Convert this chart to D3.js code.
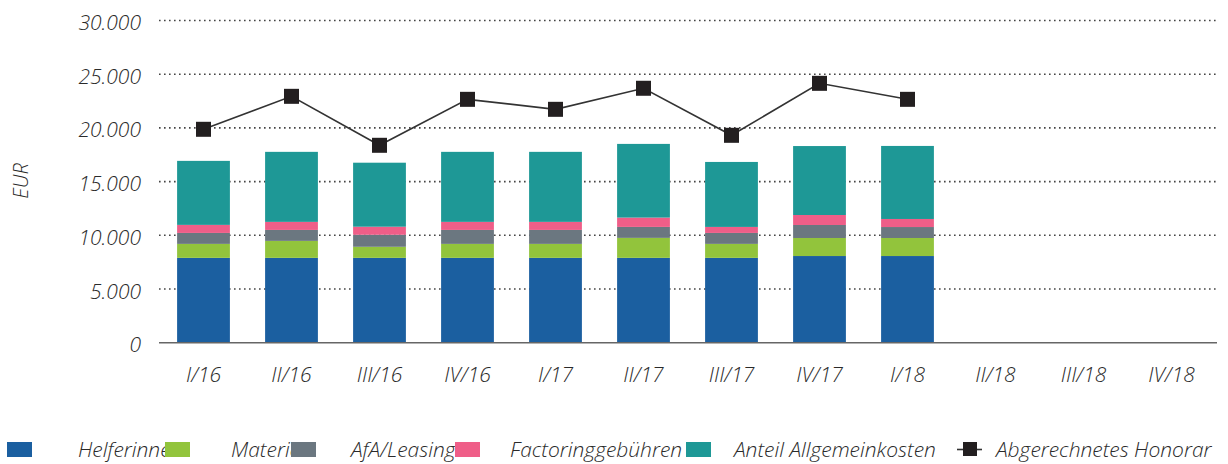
<!DOCTYPE html>
<html>
<head>
<meta charset="utf-8">
<script src="https://cdn.jsdelivr.net/npm/d3@7"></script>
<style>
    body { margin: 0; background: #fff; }
    svg { display: block; font-family: "Open Sans", Lato, sans-serif; font-style: italic; font-weight: 300; }
</style>
</head>
<body>
<svg id="chart"></svg>
<script>
const quarters = ["I/16", "II/16", "III/16", "IV/16", "I/17", "II/17", "III/17", "IV/17", "I/18", "II/18", "III/18", "IV/18"];

const seriesNames = ["Helferinnen", "Material", "AfA/Leasing", "Factoringgebühren", "Anteil Allgemeinkosten"];
const lineName = "Abgerechnetes Honorar";

// stacked cost parts per quarter (EUR), only the first 9 quarters have data
const helferinnen = [7900, 7900, 7900, 7900, 7900, 7900, 7900, 8070, 8070];
const material = [1300, 1580, 1030, 1300, 1300, 1860, 1300, 1680, 1680];
const afaLeasing = [1020, 1020, 1120, 1300, 1300, 1020, 1020, 1210, 1020];
const factoring = [750, 750, 750, 750, 750, 870, 560, 930, 750];
const allgemein = [5960, 6520, 5960, 6520, 6520, 6860, 6050, 6420, 6800];

const honorar = [19870, 22940, 18380, 22660, 21730, 23690, 19310, 24150, 22660];

const yTicks = [0, 5000, 10000, 15000, 20000, 25000, 30000];

const colors = ["#1b5fa0", "#92c43c", "#6b7780", "#ef5e88", "#1e9896"];
const lineColor = "#231f20";
const textColor = "#2a2a2a";

const width = 1228, height = 464;

const svg = d3.select("#chart").attr("width", width).attr("height", height);

const x = d3.scaleBand()
    .domain(quarters)
    .range([159.5, 1215.5])
    .paddingInner(0.4)
    .paddingOuter(0.2);

const y = d3.scaleLinear()
    .domain([0, 30000])
    .range([342.7, 20.5]);

const fmt = v => v === 0 ? "0" : d3.format(",")(v).replace(/,/g, ".");

// build stack table from the arrays
const parts = [helferinnen, material, afaLeasing, factoring, allgemein];
const table = helferinnen.map((_, i) => {
    const row = { q: quarters[i] };
    seriesNames.forEach((n, k) => row[n] = parts[k][i]);
    return row;
});
const stacked = d3.stack().keys(seriesNames)(table);

// dotted grid
const grid = svg.append("g");
grid.selectAll("line")
    .data(yTicks.filter(t => t > 0))
    .join("line")
    .attr("x1", 159)
    .attr("x2", 1217)
    .attr("y1", d => y(d))
    .attr("y2", d => y(d))
    .attr("stroke", "#444")
    .attr("stroke-width", 1.6)
    .attr("stroke-dasharray", "1.6,3.4");

// y tick labels
svg.append("g").selectAll("text")
    .data(yTicks)
    .join("text")
    .attr("x", 141)
    .attr("y", d => y(d) + 9.5)
    .attr("text-anchor", "end")
    .attr("fill", textColor)
    .style("font-size", "21px")
    .text(fmt);

svg.append("text")
    .attr("transform", "translate(28,181) rotate(-90)")
    .attr("text-anchor", "middle")
    .attr("fill", textColor)
    .style("font-size", "20px")
    .text("EUR");

// bars
svg.append("g").selectAll("g")
    .data(stacked)
    .join("g")
    .attr("fill", (d, i) => colors[i])
    .selectAll("rect")
    .data(d => d)
    .join("rect")
    .attr("x", d => x(d.data.q))
    .attr("y", d => y(d[1]))
    .attr("width", x.bandwidth())
    .attr("height", d => y(d[0]) - y(d[1]));

// baseline
svg.append("line")
    .attr("x1", 159)
    .attr("x2", 1217)
    .attr("y1", y(0))
    .attr("y2", y(0))
    .attr("stroke", "#666")
    .attr("stroke-width", 1.6);

// x labels
svg.append("g").selectAll("text")
    .data(quarters)
    .join("text")
    .attr("x", d => x(d) + x.bandwidth() / 2)
    .attr("y", 382)
    .attr("text-anchor", "middle")
    .attr("fill", textColor)
    .style("font-size", "21px")
    .text(d => d);

// honorar line + square markers
const cx = i => x(quarters[i]) + x.bandwidth() / 2;
svg.append("path")
    .datum(honorar)
    .attr("fill", "none")
    .attr("stroke", "#333")
    .attr("stroke-width", 1.6)
    .attr("d", d3.line().x((d, i) => cx(i)).y(d => y(d)));

svg.append("g").selectAll("rect")
    .data(honorar)
    .join("rect")
    .attr("x", (d, i) => cx(i) - 7.5)
    .attr("y", d => y(d) - 7.5)
    .attr("width", 15)
    .attr("height", 15)
    .attr("fill", lineColor);

// legend: each swatch overlaps the previous label, like the original
const legendX = [7, 165, 291, 455, 686];
const labelX = [78, 231, 351, 510, 734];
const legend = svg.append("g");
seriesNames.forEach((n, i) => {
    legend.append("rect")
        .attr("x", legendX[i])
        .attr("y", 442)
        .attr("width", 25)
        .attr("height", 15)
        .attr("fill", colors[i]);
    legend.append("text")
        .attr("x", labelX[i])
        .attr("y", 457)
        .attr("fill", textColor)
        .style("font-size", "21px")
        .text(n);
});
legend.append("line")
    .attr("x1", 957).attr("x2", 982)
    .attr("y1", 449.5).attr("y2", 449.5)
    .attr("stroke", "#333")
    .attr("stroke-width", 1.6);
legend.append("rect")
    .attr("x", 963).attr("y", 442)
    .attr("width", 14).attr("height", 14)
    .attr("fill", lineColor);
legend.append("text")
    .attr("x", 996)
    .attr("y", 457)
    .attr("fill", textColor)
    .style("font-size", "21px")
    .text(lineName);
</script>
</body>
</html>
